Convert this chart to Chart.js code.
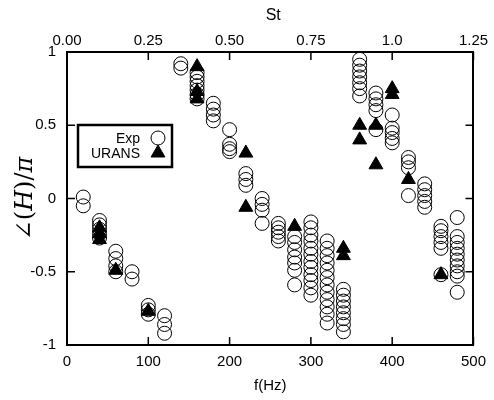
<!DOCTYPE html>
<html>
<head>
<meta charset="utf-8">
<script src="https://cdn.jsdelivr.net/npm/chart.js@4.4.1/dist/chart.umd.min.js"></script>
<style>
html, body { margin: 0; padding: 0; background: #fff; }
#wrap { width: 494px; height: 400px; }
</style>
</head>
<body>
<div id="wrap"><canvas id="phaseChart" width="494" height="400"></canvas></div>
<script>
// Experimental phase, grouped by frequency
const expFreq = [
    20, 20,
    40, 40, 40, 40, 40,
    60, 60, 60, 60,
    80, 80,
    100, 100, 100,
    120, 120, 120,
    140, 140,
    160, 160, 160, 160, 160, 160, 160,
    180, 180, 180, 180,
    200, 200, 200, 200,
    220, 220, 220,
    240, 240, 240, 240,
    260, 260, 260, 260, 260,
    280, 280, 280, 280, 280, 280, 280,
    300, 300, 300, 300, 300, 300, 300, 300, 300, 300, 300, 300,
    320, 320, 320, 320, 320, 320, 320, 320, 320, 320, 320, 320,
    340, 340, 340, 340, 340, 340, 340, 340,
    360, 360, 360, 360, 360, 360, 360,
    380, 380, 380, 380, 380,
    400, 400, 400, 400, 400,
    420, 420, 420, 420,
    440, 440, 440, 440, 440,
    460, 460, 460, 460, 460, 460,
    480, 480, 480, 480, 480, 480, 480, 480, 480, 480
];
const expPhase = [
    0.01, -0.05,
    -0.15, -0.18, -0.21, -0.24, -0.27,
    -0.36, -0.41, -0.46, -0.50,
    -0.50, -0.55,
    -0.73, -0.76, -0.79,
    -0.80, -0.86, -0.92,
    0.92, 0.89,
    0.86, 0.83, 0.80, 0.77, 0.74, 0.71, 0.68,
    0.65, 0.61, 0.57, 0.53,
    0.47, 0.37, 0.34, 0.32,
    0.17, 0.13, 0.09,
    0.00, -0.04, -0.08, -0.17,
    -0.17, -0.20, -0.23, -0.26, -0.29,
    -0.26, -0.30, -0.35, -0.40, -0.44, -0.49, -0.59,
    -0.16, -0.20, -0.25, -0.29, -0.34, -0.38, -0.43, -0.47, -0.52, -0.56, -0.61, -0.66,
    -0.29, -0.34, -0.39, -0.44, -0.49, -0.54, -0.59, -0.64, -0.69, -0.74, -0.79, -0.85,
    -0.62, -0.66, -0.70, -0.74, -0.78, -0.82, -0.86, -0.91,
    0.95, 0.91, 0.87, 0.83, 0.79, 0.75, 0.70,
    0.72, 0.68, 0.64, 0.60, 0.47,
    0.57, 0.48, 0.45, 0.41, 0.38,
    0.28, 0.25, 0.21, 0.02,
    0.10, 0.06, 0.02, -0.02, -0.06,
    -0.19, -0.22, -0.26, -0.30, -0.34, -0.52,
    -0.13, -0.26, -0.30, -0.34, -0.38, -0.42, -0.46, -0.50, -0.53, -0.64
];

// URANS phase
const uransFreq = [40, 40, 40, 60, 100, 160, 160, 160, 220, 220, 280, 340, 340, 360, 360, 380, 380, 400, 400, 420, 460];
const uransPhase = [-0.20, -0.24, -0.28, -0.49, -0.77, 0.90, 0.73, 0.68, 0.31, -0.06, -0.19, -0.34, -0.39, 0.50, 0.40, 0.50, 0.23, 0.75, 0.71, 0.13, -0.52];

const stTickLabels = ['0.00', '0.25', '0.50', '0.75', '1.0', '1.25'];
const phaseTickLabels = ['-1', '-0.5', '0', '0.5', '1'];

const fontFamily = '"Liberation Sans", Arial, sans-serif';

function toPoints(xs, ys) {
    return xs.map((x, i) => ({ x: x, y: ys[i] }));
}

// Inward tick marks on all four sides
const innerTicks = {
    id: 'innerTicks',
    afterDraw(chart) {
        const ctx = chart.ctx;
        const area = chart.chartArea;
        const len = 8;
        ctx.save();
        ctx.strokeStyle = '#000';
        ctx.lineWidth = 1.5;
        ctx.beginPath();
        chart.scales.x.ticks.forEach(t => {
            const px = chart.scales.x.getPixelForValue(t.value);
            ctx.moveTo(px, area.bottom);
            ctx.lineTo(px, area.bottom - len);
        });
        chart.scales.x2.ticks.forEach(t => {
            const px = chart.scales.x2.getPixelForValue(t.value);
            ctx.moveTo(px, area.top);
            ctx.lineTo(px, area.top + len);
        });
        chart.scales.y.ticks.forEach(t => {
            const py = chart.scales.y.getPixelForValue(t.value);
            ctx.moveTo(area.left, py);
            ctx.lineTo(area.left + len, py);
            ctx.moveTo(area.right, py);
            ctx.lineTo(area.right - len, py);
        });
        ctx.stroke();
        ctx.restore();
    }
};

// Axis titles (mixed upright/italic for the y title)
const axisTitles = {
    id: 'axisTitles',
    afterDraw(chart) {
        const ctx = chart.ctx;
        const area = chart.chartArea;
        const midX = (area.left + area.right) / 2;
        ctx.save();
        ctx.fillStyle = '#000';
        ctx.textAlign = 'center';
        ctx.textBaseline = 'middle';
        ctx.font = '16px ' + fontFamily;
        ctx.fillText('St', midX + 3, 16);
        ctx.font = '15px ' + fontFamily;
        ctx.fillText('f(Hz)', midX, 386);

        // y title: ∠(H)/π
        const parts = [
            { t: '\u2220(', f: '24px "DejaVu Serif", serif' },
            { t: 'H', f: 'italic 24px "DejaVu Serif", serif' },
            { t: ')/', f: '24px "DejaVu Serif", serif' },
            { t: '\u03c0', f: 'italic 24px "DejaVu Serif", serif' }
        ];
        let total = 0;
        parts.forEach(p => { ctx.font = p.f; p.w = ctx.measureText(p.t).width; total += p.w; });
        ctx.translate(26, (area.top + area.bottom) / 2);
        ctx.rotate(-Math.PI / 2);
        ctx.textAlign = 'left';
        let cx = -total / 2;
        parts.forEach(p => {
            ctx.font = p.f;
            ctx.fillText(p.t, cx, 0);
            cx += p.w;
        });
        ctx.restore();
    }
};

// Boxed legend inside the plot
const boxLegend = {
    id: 'boxLegend',
    afterDraw(chart) {
        const ctx = chart.ctx;
        const area = chart.chartArea;
        const bx = area.left + 11, by = area.top + 73, bw = 94, bh = 42;
        ctx.save();
        ctx.fillStyle = '#fff';
        ctx.fillRect(bx, by, bw, bh);
        ctx.strokeStyle = '#000';
        ctx.lineWidth = 2.5;
        ctx.strokeRect(bx, by, bw, bh);
        ctx.font = '14px ' + fontFamily;
        ctx.textAlign = 'right';
        ctx.textBaseline = 'middle';
        chart.data.datasets.forEach((ds, i) => {
            const rowY = by + 13 + i * 15;
            ctx.fillStyle = '#000';
            ctx.fillText(ds.label, bx + 62, rowY + 1);
            ctx.strokeStyle = ds.borderColor;
            ctx.fillStyle = ds.backgroundColor;
            ctx.lineWidth = ds.borderWidth;
            Chart.helpers.drawPoint(ctx, {
                pointStyle: ds.pointStyle,
                radius: ds.pointRadius,
                borderWidth: ds.borderWidth,
                rotation: 0
            }, bx + 80, rowY);
        });
        ctx.restore();
    }
};

const tickFont = { family: fontFamily, size: 15 };

const ctx = document.getElementById('phaseChart').getContext('2d');
const phaseChart = new Chart(ctx, {
    type: 'scatter',
    data: {
        datasets: [
            {
                label: 'Exp',
                data: toPoints(expFreq, expPhase),
                pointStyle: 'circle',
                pointRadius: 7,
                backgroundColor: 'rgba(0,0,0,0)',
                borderColor: '#000',
                borderWidth: 1
            },
            {
                label: 'URANS',
                data: toPoints(uransFreq, uransPhase),
                pointStyle: 'triangle',
                pointRadius: 8,
                backgroundColor: '#000',
                borderColor: '#000',
                borderWidth: 1
            }
        ]
    },
    options: {
        responsive: false,
        animation: false,
        layout: { padding: 0 },
        plugins: {
            legend: { display: false },
            tooltip: { enabled: false }
        },
        scales: {
            x: {
                type: 'linear',
                position: 'bottom',
                min: 0,
                max: 500,
                ticks: { stepSize: 100, padding: 8, color: '#000', font: tickFont, maxRotation: 0 },
                grid: { display: false, drawTicks: false },
                border: { display: true, color: '#000', width: 2 },
                afterFit: s => { s.height = 55; }
            },
            x2: {
                type: 'linear',
                position: 'top',
                min: 0,
                max: 1.25,
                ticks: {
                    stepSize: 0.25, padding: 2, color: '#000', font: tickFont, maxRotation: 0,
                    callback: (v, i) => stTickLabels[i]
                },
                grid: { display: false, drawTicks: false },
                border: { display: true, color: '#000', width: 2 },
                afterFit: s => { s.height = 52; }
            },
            y: {
                type: 'linear',
                position: 'left',
                min: -1,
                max: 1,
                ticks: {
                    stepSize: 0.5, padding: 11, color: '#000', font: tickFont,
                    callback: (v, i) => phaseTickLabels[i]
                },
                grid: { display: false, drawTicks: false },
                border: { display: true, color: '#000', width: 2 },
                afterFit: s => { s.width = 67; }
            },
            y2: {
                type: 'linear',
                position: 'right',
                min: -1,
                max: 1,
                ticks: { display: false },
                grid: { display: false, drawTicks: false },
                border: { display: true, color: '#000', width: 2 },
                afterFit: s => { s.width = 15; }
            }
        }
    },
    plugins: [innerTicks, axisTitles, boxLegend]
});
</script>
</body>
</html>
